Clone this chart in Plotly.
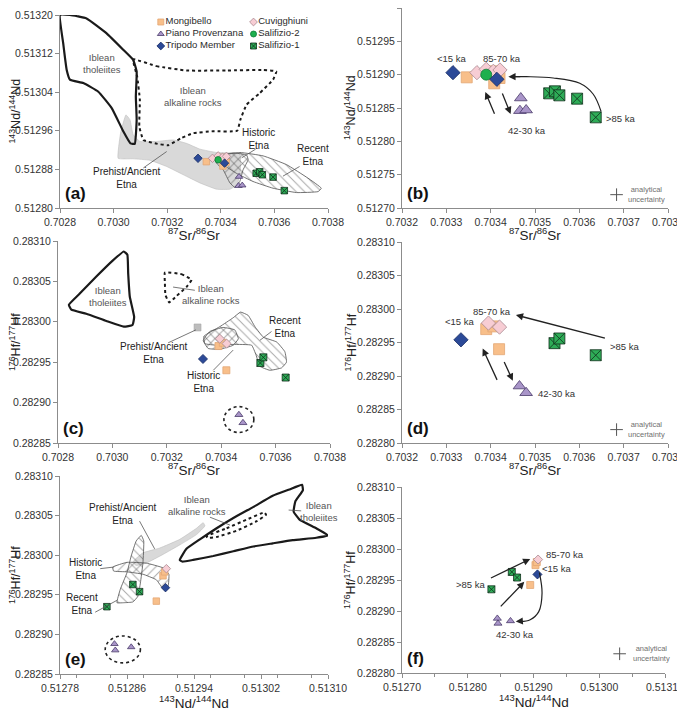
import plotly.graph_objects as go

FONT = "Arial, Liberation Sans, sans-serif"

# ---------------- sample data ----------------
# Sr-Nd  (panels a and b)
mon_sr = [0.703346, 0.703405, 0.703420, 0.703408]
mon_nd = [0.512896, 0.512905, 0.512895, 0.512887]
pp_sr = [0.703468, 0.703466, 0.703480]
pp_nd = [0.512865, 0.512846, 0.512847]
tri_sr = [0.703315, 0.703414]
tri_nd = [0.512903, 0.512893]
cuv_sr = [0.703369, 0.703390, 0.703406, 0.703421]
cuv_nd = [0.512903, 0.512908, 0.512905, 0.512907]
s2_sr = [0.703390]
s2_nd = [0.512900]
s1_sr = [0.703532, 0.703545, 0.703555, 0.703595, 0.703637]
s1_nd = [0.512872, 0.512875, 0.512869, 0.512864, 0.512836]

# Sr-Hf  (panels c and d)
mon_sr_h = [0.703390, 0.703406, 0.703419]
mon_hf_s = [0.282970, 0.282974, 0.282940]
cuv_sr_h = [0.703395, 0.703420]
cuv_hf_s = [0.282979, 0.282973]
tri_sr_h = [0.703333]
tri_hf_s = [0.282954]
pp_sr_h = [0.703465, 0.703480]
pp_hf_s = [0.282885, 0.282875]
s1_sr_h = [0.703544, 0.703555, 0.703637]
s1_hf_s = [0.282949, 0.282956, 0.282931]
anc_sr_h = [0.703313]
anc_hf_s = [0.282993]

# Nd-Hf  (panels e and f)
mon_nd_h = [0.512895, 0.512903, 0.512905]
mon_hf_n = [0.282942, 0.282974, 0.282979]
cuv_nd_h = [0.512907]
cuv_hf_n = [0.282983]
tri_nd_h = [0.512906]
tri_hf_n = [0.282959]
pp_nd_h = [0.512845, 0.512846, 0.512865]
pp_hf_n = [0.282888, 0.282880, 0.282884]
s1_nd_h = [0.512836, 0.512867, 0.512875]
s1_hf_n = [0.282935, 0.282963, 0.282954]

# ---------------- compositional fields ----------------
# panel a (Sr vs Nd)
tho_a_x = [0.702800, 0.702837, 0.702899, 0.702974, 0.703036, 0.703073, 0.703086, 0.703083, 0.703086,
           0.703079, 0.703063, 0.703036, 0.702993, 0.702943, 0.702887, 0.702837, 0.702825, 0.702812, 0.702800]
tho_a_y = [0.513200, 0.513200, 0.513193, 0.513162, 0.513128, 0.513107, 0.513083, 0.513031, 0.512983,
           0.512933, 0.512934, 0.512959, 0.513007, 0.513041, 0.513059, 0.513066, 0.513086, 0.513141, 0.513200]
alk_a_x = [0.703073, 0.703160, 0.703272, 0.703421, 0.703558, 0.703607, 0.703595, 0.703545, 0.703496, 0.703473,
           0.703461, 0.703371, 0.703297, 0.703253, 0.703204, 0.703154, 0.703111, 0.703096, 0.703098, 0.703088, 0.703073]
alk_a_y = [0.513108, 0.513094, 0.513085, 0.513085, 0.513086, 0.513083, 0.513066, 0.513038, 0.513014, 0.512983,
           0.512960, 0.512959, 0.512955, 0.512945, 0.512930, 0.512934, 0.512941, 0.512969, 0.513024, 0.513072, 0.513108]
anc_a_x = [0.703017, 0.703026, 0.703046, 0.703061, 0.703073, 0.703098, 0.703160, 0.703222, 0.703272, 0.703322, 0.703384,
           0.703471, 0.703473, 0.703461, 0.703434, 0.703384, 0.703322, 0.703260, 0.703198, 0.703135, 0.703073, 0.703017]
anc_a_y = [0.512903, 0.512955, 0.512993, 0.512983, 0.512952, 0.512938, 0.512938, 0.512941, 0.512934, 0.512922, 0.512915,
           0.512912, 0.512879, 0.512848, 0.512839, 0.512839, 0.512852, 0.512869, 0.512886, 0.512899, 0.512902, 0.512903]
his_a_x = [0.703378, 0.703446, 0.703496, 0.703502, 0.703483, 0.703471, 0.703452, 0.703434, 0.703409, 0.703384, 0.703378]
his_a_y = [0.512907, 0.512914, 0.512910, 0.512900, 0.512879, 0.512855, 0.512843, 0.512852, 0.512879, 0.512893, 0.512907]
rec_a_x = [0.703390, 0.703471, 0.703558, 0.703645, 0.703725, 0.703775, 0.703763, 0.703682, 0.703595, 0.703520,
           0.703458, 0.703409, 0.703390]
rec_a_y = [0.512907, 0.512915, 0.512908, 0.512890, 0.512862, 0.512841, 0.512834, 0.512832, 0.512841, 0.512855,
           0.512872, 0.512890, 0.512907]

# panel c (Sr vs Hf)
tho_c_x = [0.702840, 0.702880, 0.702941, 0.703002, 0.703042, 0.703055, 0.703058, 0.703064, 0.703080, 0.703074,
           0.703042, 0.702978, 0.702904, 0.702849, 0.702840]
tho_c_y = [0.283021, 0.283035, 0.283056, 0.283076, 0.283087, 0.283083, 0.283060, 0.283031, 0.283006, 0.282996,
           0.282994, 0.283001, 0.283010, 0.283015, 0.283021]
alk_c_x = [0.703193, 0.703254, 0.703291, 0.703272, 0.703236, 0.703209, 0.703195, 0.703193, 0.703193]
alk_c_y = [0.283061, 0.283059, 0.283052, 0.283043, 0.283032, 0.283024, 0.283033, 0.283048, 0.283061]
rec_c_x = [0.703336, 0.703395, 0.703444, 0.703471, 0.703499, 0.703524, 0.703555, 0.703604, 0.703634, 0.703640,
           0.703622, 0.703579, 0.703542, 0.703528, 0.703512, 0.703444, 0.703383, 0.703340, 0.703336]
rec_c_y = [0.282982, 0.282994, 0.283005, 0.283012, 0.283008, 0.282994, 0.282981, 0.282975, 0.282963, 0.282950,
           0.282943, 0.282940, 0.282945, 0.282959, 0.282971, 0.282972, 0.282971, 0.282973, 0.282982]
his_c_x = [0.703334, 0.703358, 0.703407, 0.703450, 0.703463, 0.703444, 0.703395, 0.703352, 0.703334]
his_c_y = [0.282977, 0.282988, 0.282993, 0.282990, 0.282979, 0.282971, 0.282966, 0.282967, 0.282977]

# panel e (Nd vs Hf)
tho_e_x = [0.512923, 0.512931, 0.512947, 0.512967, 0.512987, 0.513011, 0.513034, 0.513054, 0.513069, 0.513070,
           0.513061, 0.513059, 0.513066, 0.513086, 0.513100, 0.513086, 0.513058, 0.513034, 0.513011, 0.512987,
           0.512963, 0.512939, 0.512926, 0.512923]
tho_e_y = [0.282994, 0.283008, 0.283020, 0.283034, 0.283047, 0.283061, 0.283075, 0.283083, 0.283089, 0.283082,
           0.283068, 0.283055, 0.283045, 0.283034, 0.283025, 0.283022, 0.283019, 0.283015, 0.283011, 0.283005,
           0.282999, 0.282994, 0.282992, 0.282994]
alk_e_x = [0.512955, 0.512979, 0.513003, 0.513024, 0.513026, 0.513015, 0.512991, 0.512967, 0.512956, 0.512955]
alk_e_y = [0.283024, 0.283034, 0.283045, 0.283054, 0.283051, 0.283043, 0.283031, 0.283023, 0.283022, 0.283024]
anc_e_x = [0.512869, 0.512879, 0.512899, 0.512923, 0.512943, 0.512951, 0.512953, 0.512943, 0.512923, 0.512903,
           0.512883, 0.512871, 0.512867, 0.512869]
anc_e_y = [0.282994, 0.283003, 0.283009, 0.283020, 0.283034, 0.283041, 0.283037, 0.283026, 0.283013, 0.283001,
           0.282990, 0.282987, 0.282991, 0.282994]
rec_e_x = [0.512848, 0.512852, 0.512860, 0.512865, 0.512871, 0.512877, 0.512880, 0.512879, 0.512876, 0.512873,
           0.512867, 0.512856, 0.512848]
rec_e_y = [0.282940, 0.282957, 0.282978, 0.282999, 0.283018, 0.283025, 0.283018, 0.282990, 0.282965, 0.282948,
           0.282941, 0.282940, 0.282940]
his_e_x = [0.512843, 0.512860, 0.512883, 0.512903, 0.512910, 0.512909, 0.512903, 0.512895, 0.512879, 0.512860,
           0.512844, 0.512843]
his_e_y = [0.282985, 0.282991, 0.282990, 0.282984, 0.282976, 0.282961, 0.282958, 0.282969, 0.282976, 0.282979,
           0.282980, 0.282985]

groups = ["Mongibello", "Cuvigghiuni", "Piano Provenzana", "Salifizio-2", "Tripodo Member", "Salifizio-1"]
STYLE = {
    "Mongibello": dict(symbol="square", color="#F8BF8A", line="#E3A775"),
    "Cuvigghiuni": dict(symbol="diamond", color="#F7CDD4", line="#A88990"),
    "Piano Provenzana": dict(symbol="triangle-up", color="#A995C9", line="#4A3B6A"),
    "Salifizio-2": dict(symbol="circle", color="#1DB04E", line="#0E7A35"),
    "Tripodo Member": dict(symbol="diamond", color="#2C4A98", line="#182C63"),
    "Salifizio-1": dict(symbol="square-x", color="#2EAC57", line="#10301C"),
}

fig = go.Figure()


def pts(name, xs, ys, xa, ya, size):
    s = STYLE[name]
    fig.add_trace(go.Scatter(x=xs, y=ys, mode="markers", xaxis=xa, yaxis=ya, showlegend=False,
                             marker=dict(symbol=s["symbol"], size=size, color=s["color"],
                                         line=dict(color=s["line"], width=0.8))))


SMOOTH = 0.35


def field(xs, ys, xa, ya, kind):
    if kind == "tho":
        fig.add_trace(go.Scatter(x=xs, y=ys, mode="lines", xaxis=xa, yaxis=ya, showlegend=False,
                                 line=dict(color="#1a1a1a", width=2.2, shape="spline", smoothing=SMOOTH)))
    elif kind == "alk":
        fig.add_trace(go.Scatter(x=xs, y=ys, mode="lines", xaxis=xa, yaxis=ya, showlegend=False,
                                 line=dict(color="#1a1a1a", width=2, dash="dot", shape="spline", smoothing=SMOOTH)))
    elif kind == "anc":
        fig.add_trace(go.Scatter(x=xs, y=ys, mode="lines", xaxis=xa, yaxis=ya, showlegend=False,
                                 fill="toself", fillcolor="#D9D9D9",
                                 line=dict(color="#BDBDBD", width=0.6, shape="spline", smoothing=SMOOTH)))
    else:
        shp = "/" if kind == "his" else "\\"
        fig.add_trace(go.Scatter(x=xs, y=ys, mode="lines", xaxis=xa, yaxis=ya, showlegend=False,
                                 fill="toself", fillcolor="rgba(0,0,0,0)",
                                 fillpattern=dict(shape=shp, fgcolor="#505050", bgcolor="rgba(255,255,255,0)",
                                                  size=6, solidity=0.16),
                                 line=dict(color="#505050", width=0.8, shape="spline", smoothing=SMOOTH)))


# panel a
field(anc_a_x, anc_a_y, "x", "y", "anc")
field(tho_a_x, tho_a_y, "x", "y", "tho")
field(alk_a_x, alk_a_y, "x", "y", "alk")
field(his_a_x, his_a_y, "x", "y", "his")
field(rec_a_x, rec_a_y, "x", "y", "rec")
# panel c
field(tho_c_x, tho_c_y, "x3", "y3", "tho")
field(alk_c_x, alk_c_y, "x3", "y3", "alk")
field(his_c_x, his_c_y, "x3", "y3", "his")
field(rec_c_x, rec_c_y, "x3", "y3", "rec")
# panel e
field(anc_e_x, anc_e_y, "x5", "y5", "anc")
field(tho_e_x, tho_e_y, "x5", "y5", "tho")
field(alk_e_x, alk_e_y, "x5", "y5", "alk")
field(rec_e_x, rec_e_y, "x5", "y5", "rec")
field(his_e_x, his_e_y, "x5", "y5", "his")

srnd = {"Mongibello": (mon_sr, mon_nd), "Cuvigghiuni": (cuv_sr, cuv_nd), "Piano Provenzana": (pp_sr, pp_nd),
        "Salifizio-2": (s2_sr, s2_nd), "Tripodo Member": (tri_sr, tri_nd), "Salifizio-1": (s1_sr, s1_nd)}
srhf = {"Mongibello": (mon_sr_h, mon_hf_s), "Cuvigghiuni": (cuv_sr_h, cuv_hf_s), "Piano Provenzana": (pp_sr_h, pp_hf_s),
        "Tripodo Member": (tri_sr_h, tri_hf_s), "Salifizio-1": (s1_sr_h, s1_hf_s)}
ndhf = {"Mongibello": (mon_nd_h, mon_hf_n), "Cuvigghiuni": (cuv_nd_h, cuv_hf_n), "Piano Provenzana": (pp_nd_h, pp_hf_n),
        "Tripodo Member": (tri_nd_h, tri_hf_n), "Salifizio-1": (s1_nd_h, s1_hf_n)}

# gray prehistoric point in c
fig.add_trace(go.Scatter(x=anc_sr_h, y=anc_hf_s, mode="markers", xaxis="x3", yaxis="y3", showlegend=False,
                         marker=dict(symbol="square", size=7, color="#BDBDBD", line=dict(color="#A0A0A0", width=0.5))))

for g in groups:
    if g in srnd:
        pts(g, *srnd[g], "x", "y", 6.5)
        pts(g, *srnd[g], "x2", "y2", 11)
    if g in srhf:
        pts(g, *srhf[g], "x3", "y3", 7)
        pts(g, *srhf[g], "x4", "y4", 11)
    if g in ndhf:
        pts(g, *ndhf[g], "x5", "y5", 6.5)
        pts(g, *ndhf[g], "x6", "y6", 7)

# legend drawn on its own small axis inside panel a
leg_x = [0.12, 1.15, 0.12, 1.15, 0.12, 1.15]
leg_y = [2.5, 2.5, 1.5, 1.5, 0.5, 0.5]
for g, lx, ly in zip(groups, leg_x, leg_y):
    s = STYLE[g]
    fig.add_trace(go.Scatter(x=[lx], y=[ly], mode="markers+text", xaxis="x7", yaxis="y7", showlegend=False,
                             text=[g], textposition="middle right",
                             textfont=dict(size=9.5, color="#2a2a2a", family=FONT),
                             marker=dict(symbol=s["symbol"], size=6, color=s["color"],
                                         line=dict(color=s["line"], width=0.8))))

# analytical uncertainty crosses
for xa, ya, ux, uy in [("x2", "y2", 0.703684, 0.512720), ("x4", "y4", 0.703684, 0.282820),
                       ("x6", "y6", 0.513031, 0.282831)]:
    fig.add_trace(go.Scatter(x=[ux], y=[uy], mode="markers", xaxis=xa, yaxis=ya, showlegend=False,
                             marker=dict(symbol="cross-thin", size=9, line=dict(color="#555", width=1))))

# curved arrows (b, f)
curve_b_x = [0.703649, 0.703631, 0.703601, 0.703541, 0.703481, 0.703446]
curve_b_y = [0.512845, 0.512871, 0.512887, 0.512895, 0.512897, 0.512897]
curve_f_x = [0.512909, 0.512913, 0.512908, 0.512895, 0.512880]
curve_f_y = [0.282962, 0.282929, 0.282899, 0.282886, 0.282883]
fig.add_trace(go.Scatter(x=curve_b_x, y=curve_b_y, mode="lines", xaxis="x2", yaxis="y2", showlegend=False,
                         line=dict(color="#222", width=1.2, shape="spline")))
fig.add_trace(go.Scatter(x=curve_f_x, y=curve_f_y, mode="lines", xaxis="x6", yaxis="y6", showlegend=False,
                         line=dict(color="#222", width=1.2, shape="spline")))

ann = []
shapes = []


def label(xa, ya, x, y, t, color="#222", size=10):
    ann.append(dict(xref=xa, yref=ya, x=x, y=y, text=t, showarrow=False,
                    font=dict(size=size, color=color, family=FONT)))


def leader(xa, ya, x0, y0, x1, y1):
    shapes.append(dict(type="line", xref=xa, yref=ya, x0=x0, y0=y0, x1=x1, y1=y1,
                       line=dict(color="#555", width=0.8)))


def arrow(xa, ya, tx, ty, hx, hy):
    ann.append(dict(xref=xa, yref=ya, axref=xa, ayref=ya, x=hx, y=hy, ax=tx, ay=ty, text="",
                    showarrow=True, arrowhead=2, arrowsize=1.1, arrowwidth=1.3, arrowcolor="#222"))


GRAY = "#555"
UNC = "#707070"
# a
label("x", "y", 0.702955, 0.513100, "Iblean<br>tholeiites", GRAY, 9.5)
label("x", "y", 0.703297, 0.513031, "Iblean<br>alkaline rocks", GRAY, 9.5)
label("x", "y", 0.703539, 0.512943, "Historic<br>Etna")
label("x", "y", 0.703744, 0.512909, "Recent<br>Etna")
label("x", "y", 0.703048, 0.512862, "Prehist/Ancient<br>Etna")
leader("x", "y", 0.703530, 0.512922, 0.703478, 0.512904)
leader("x", "y", 0.703694, 0.512886, 0.703632, 0.512866)
leader("x", "y", 0.703111, 0.512883, 0.703198, 0.512917)
# b
label("x2", "y2", 0.703313, 0.512925, "<15 ka", "#333", 9.5)
label("x2", "y2", 0.703425, 0.512925, "85-70 ka", "#333", 9.5)
label("x2", "y2", 0.703481, 0.512816, "42-30 ka", "#333", 9.5)
label("x2", "y2", 0.703695, 0.512835, ">85 ka", "#333", 9.5)
arrow("x2", "y2", 0.703410, 0.512839, 0.703388, 0.512874)
arrow("x2", "y2", 0.703425, 0.512874, 0.703445, 0.512841)
arrow("x2", "y2", 0.703470, 0.512897, 0.703440, 0.512897)
label("x2", "y2", 0.703752, 0.512720, "analytical<br>uncertainty", UNC, 7.5)
# c
label("x3", "y3", 0.702984, 0.283031, "Iblean<br>tholeiites", GRAY, 9.5)
label("x3", "y3", 0.703364, 0.283034, "Iblean<br>alkaline rocks", GRAY, 9.5)
label("x3", "y3", 0.703634, 0.282993, "Recent<br>Etna")
label("x3", "y3", 0.703152, 0.282961, "Prehist/Ancient<br>Etna")
label("x3", "y3", 0.703336, 0.282926, "Historic<br>Etna")
leader("x3", "y3", 0.703223, 0.283043, 0.703303, 0.283039)
leader("x3", "y3", 0.703585, 0.282988, 0.703542, 0.282977)
leader("x3", "y3", 0.703205, 0.282974, 0.703307, 0.282990)
leader("x3", "y3", 0.703371, 0.282940, 0.703444, 0.282965)
shapes.append(dict(type="circle", xref="x3", yref="y3", x0=0.703410, x1=0.703520, y0=0.282863, y1=0.282895,
                   line=dict(color="#222", width=1.6, dash="dot")))
# d
label("x4", "y4", 0.703403, 0.282997, "85-70 ka", "#333", 9.5)
label("x4", "y4", 0.703331, 0.282982, "<15 ka", "#333", 9.5)
label("x4", "y4", 0.703703, 0.282944, ">85 ka", "#333", 9.5)
label("x4", "y4", 0.703549, 0.282874, "42-30 ka", "#333", 9.5)
arrow("x4", "y4", 0.703661, 0.282956, 0.703457, 0.282991)
arrow("x4", "y4", 0.703416, 0.282892, 0.703382, 0.282941)
arrow("x4", "y4", 0.703429, 0.282923, 0.703450, 0.282893)
label("x4", "y4", 0.703752, 0.282820, "analytical<br>uncertainty", UNC, 7.5)
# e
label("x5", "y5", 0.512855, 0.283052, "Prehist/Ancient<br>Etna")
label("x5", "y5", 0.512943, 0.283063, "Iblean<br>alkaline rocks", GRAY, 9.5)
label("x5", "y5", 0.513089, 0.283055, "Iblean<br>tholeiites", GRAY, 9.5)
label("x5", "y5", 0.512810, 0.282983, "Historic<br>Etna")
label("x5", "y5", 0.512806, 0.282938, "Recent<br>Etna")
leader("x5", "y5", 0.512875, 0.283043, 0.512893, 0.283008)
leader("x5", "y5", 0.512959, 0.283048, 0.512983, 0.283038)
leader("x5", "y5", 0.513068, 0.283056, 0.513053, 0.283057)
leader("x5", "y5", 0.512828, 0.282983, 0.512844, 0.282985)
leader("x5", "y5", 0.512822, 0.282928, 0.512848, 0.282943)
shapes.append(dict(type="circle", xref="x5", yref="y5", x0=0.512834, x1=0.512876, y0=0.282864, y1=0.282898,
                   line=dict(color="#222", width=1.6, dash="dot")))
# f
label("x6", "y6", 0.512948, 0.282991, "85-70 ka", "#333", 9.5)
label("x6", "y6", 0.512935, 0.282968, "<15 ka", "#333", 9.5)
label("x6", "y6", 0.512805, 0.282942, ">85 ka", "#333", 9.5)
label("x6", "y6", 0.512872, 0.282862, "42-30 ka", "#333", 9.5)
arrow("x6", "y6", 0.512833, 0.282952, 0.512895, 0.282984)
arrow("x6", "y6", 0.512848, 0.282905, 0.512886, 0.282947)
arrow("x6", "y6", 0.512885, 0.282884, 0.512873, 0.282883)
label("x6", "y6", 0.513080, 0.282831, "analytical<br>uncertainty", UNC, 7.5)

# panel letters
for i, t in zip(["", "2", "3", "4", "5", "6"], ["(a)", "(b)", "(c)", "(d)", "(e)", "(f)"]):
    ann.append(dict(xref="x%s domain" % i, yref="y%s domain" % i, x=0.01, y=0.015, xanchor="left",
                    yanchor="bottom", text="<b>%s</b>" % t, showarrow=False,
                    font=dict(size=17, color="#111", family=FONT)))

SR = "<sup>87</sup>Sr/<sup>86</sup>Sr"
ND = "<sup>143</sup>Nd/<sup>144</sup>Nd"
HF = "<sup>176</sup>Hf/<sup>177</sup>Hf"

# axis titles drawn as annotations so they sit as close to the tick labels as in the original
titles = [("", SR, ND, -45, -26), ("2", SR, ND, -52, -26), ("3", SR, HF, -43, -26),
          ("4", SR, HF, -52, -26), ("5", ND, HF, -45, -28), ("6", ND, HF, -52, -28)]
for i, xt, yt, xs, ys in titles:
    ann.append(dict(xref="x%s domain" % i, yref="y%s domain" % i, x=0.5, y=0, yshift=ys,
                    xanchor="center", yanchor="middle", text=xt, showarrow=False,
                    font=dict(size=13.5, color="#222", family=FONT)))
    ann.append(dict(xref="x%s domain" % i, yref="y%s domain" % i, x=0, y=0.5, xshift=xs,
                    xanchor="center", yanchor="middle", textangle=-90, text=yt, showarrow=False,
                    font=dict(size=12.5, color="#222", family=FONT)))

# the page body has an 8 px margin, so the figure is drawn 8 px smaller and offset
PAD = 8
W, H = 685 - PAD, 708 - PAD


def xdom(l, r):
    return [max(0, (l - PAD) / W), min(1, (r - PAD) / W)]


def ydom(t, b):
    return [max(0, 1 - (b - PAD) / H), min(1, 1 - (t - PAD) / H)]


def axis(dom, rng, dtick, fmt, anchor, minor=None):
    d = dict(domain=dom, range=rng, tick0=rng[0], dtick=dtick, tickformat=fmt, anchor=anchor,
             automargin=False,
             showline=True, linecolor="#8c8c8c", linewidth=1, ticks="outside", ticklen=4,
             tickcolor="#8c8c8c", showgrid=False, zeroline=False,
             tickfont=dict(size=10.5, color="#333", family=FONT))
    if minor:
        d["minor"] = dict(dtick=minor, ticks="outside", ticklen=3, tickcolor="#8c8c8c", showgrid=False)
    return d


fig.update_layout(
    width=W, height=H, margin=dict(l=0, r=0, t=0, b=0),
    paper_bgcolor="white", plot_bgcolor="white", showlegend=False,
    font=dict(family=FONT),
    xaxis=axis(xdom(60, 328), [0.7028, 0.7038], 0.0002, ".4f", "y"),
    yaxis=axis(ydom(15, 208), [0.51280, 0.51320], 0.00008, ".5f", "x"),
    xaxis2=axis(xdom(402, 668), [0.7032, 0.7038], 0.0001, ".4f", "y2"),
    yaxis2=axis(ydom(8, 208), [0.51270, 0.51300], 0.00005, ".5f", "x2"),
    xaxis3=axis(xdom(58, 330), [0.7028, 0.7038], 0.0002, ".4f", "y3"),
    yaxis3=axis(ydom(241, 443), [0.28285, 0.28310], 0.00005, ".5f", "x3"),
    xaxis4=axis(xdom(402, 668), [0.7032, 0.7038], 0.0001, ".4f", "y4"),
    yaxis4=axis(ydom(242, 443), [0.28280, 0.28310], 0.00005, ".5f", "x4"),
    xaxis5=axis(xdom(60, 328), [0.51278, 0.51310], 0.00008, ".5f", "y5", 0.00004),
    yaxis5=axis(ydom(476, 674), [0.28285, 0.28310], 0.00005, ".5f", "x5"),
    xaxis6=axis(xdom(402, 665), [0.51270, 0.51310], 0.0001, ".5f", "y6", 0.00005),
    yaxis6=axis(ydom(487, 673), [0.28280, 0.28310], 0.00005, ".5f", "x6"),
    xaxis7=dict(domain=xdom(150, 330), range=[0, 2], visible=False, anchor="y7"),
    yaxis7=dict(domain=ydom(16, 52), range=[0, 3], visible=False, anchor="x7"),
    annotations=ann, shapes=shapes,
)

fig.write_html("out.html")
